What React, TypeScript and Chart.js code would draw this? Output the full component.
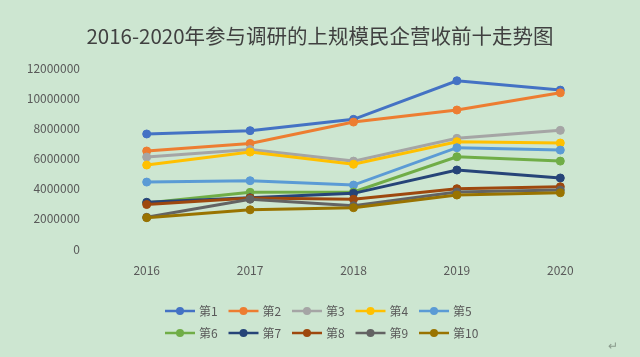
import React, { useEffect, useRef } from "react";
import { Chart, registerables } from "chart.js";

Chart.register(...registerables);

const years = ["2016", "2017", "2018", "2019", "2020"];
const seriesNames = ["第1", "第2", "第3", "第4", "第5", "第6", "第7", "第8", "第9", "第10"];
const seriesColors = [
  "#4472C4", "#ED7D31", "#A5A5A5", "#FFC000", "#5B9BD5",
  "#70AD47", "#264478", "#9E480E", "#636363", "#997300",
];
const s1 = [7630000, 7850000, 8600000, 11160000, 10540000];
const s2 = [6500000, 7000000, 8420000, 9220000, 10360000];
const s3 = [6100000, 6600000, 5830000, 7340000, 7870000];
const s4 = [5570000, 6430000, 5620000, 7120000, 7030000];
const s5 = [4440000, 4530000, 4240000, 6720000, 6560000];
const s6 = [3050000, 3760000, 3780000, 6120000, 5830000];
const s7 = [3100000, 3400000, 3690000, 5240000, 4710000];
const s8 = [2950000, 3380000, 3300000, 4000000, 4130000];
const s9 = [2100000, 3300000, 2870000, 3780000, 3910000];
const s10 = [2080000, 2600000, 2740000, 3580000, 3730000];
const seriesValues = [s1, s2, s3, s4, s5, s6, s7, s8, s9, s10];
const yTicks = [0, 2000000, 4000000, 6000000, 8000000, 10000000, 12000000];
const titleText = "2016-2020年参与调研的上规模民企营收前十走势图";

const BG = "#cde6d1";
const TEXT = "#595959";
const FONT = "'Noto Sans CJK SC', 'Noto Sans', sans-serif";

const bgPlugin = {
  id: "bg",
  beforeDraw(chart: any) {
    const ctx = chart.ctx;
    ctx.save();
    ctx.fillStyle = BG;
    ctx.fillRect(0, 0, chart.width, chart.height);
    ctx.restore();
  },
};

const legendPlugin = {
  id: "customLegend",
  afterDraw(chart: any) {
    const ctx = chart.ctx;
    ctx.save();
    ctx.font = `12px ${FONT}`;
    ctx.textBaseline = "middle";
    const lineLen = 30;
    const gapText = 4;
    const stride = 63.5;
    const rows = [seriesNames.slice(0, 5), seriesNames.slice(5)];
    const rowY = [311, 333];
    const startX = chart.width / 2 - 155;
    rows.forEach((names, r) => {
      names.forEach((name, j) => {
        const x = startX + j * stride;
        const idx = r * 5 + j;
        const color = seriesColors[idx];
        const y = rowY[r];
        ctx.strokeStyle = color;
        ctx.lineWidth = 2.5;
        ctx.beginPath();
        ctx.moveTo(x, y);
        ctx.lineTo(x + lineLen, y);
        ctx.stroke();
        ctx.fillStyle = color;
        ctx.beginPath();
        ctx.arc(x + lineLen / 2, y, 4, 0, Math.PI * 2);
        ctx.fill();
        ctx.fillStyle = TEXT;
        ctx.textAlign = "left";
        ctx.fillText(name, x + lineLen + gapText, y);
      });
    });
    ctx.fillStyle = "#8a9a8c";
    ctx.font = `12px ${FONT}`;
    ctx.fillText("↵", 608, 345);
    ctx.restore();
  },
};

export default function App() {
  const ref = useRef<HTMLCanvasElement | null>(null);
  useEffect(() => {
    if (!ref.current) return;
    const chart = new Chart(ref.current, {
      type: "line",
      data: {
        labels: years,
        datasets: seriesNames.map((name, i) => ({
          label: name,
          data: seriesValues[i],
          borderColor: seriesColors[i],
          backgroundColor: seriesColors[i],
          pointBackgroundColor: seriesColors[i],
          pointBorderColor: seriesColors[i],
          borderWidth: 3,
          pointRadius: 4,
          pointBorderWidth: 1,
          tension: 0,
          order: 10 - i,
        })),
      },
      options: {
        responsive: false,
        animation: false,
        layout: { padding: { left: 28, right: 28, top: 0, bottom: 78 } },
        plugins: {
          legend: { display: false },
          tooltip: { enabled: false },
          title: {
            display: true,
            text: titleText,
            color: "#404040",
            font: { family: FONT, size: 20.5, weight: "normal", lineHeight: 1.2 },
            padding: { top: 23.5, bottom: 20 },
          },
        },
        scales: {
          x: {
            offset: true,
            grid: { display: false, drawTicks: false },
            border: { display: false },
            ticks: { color: TEXT, font: { family: FONT, size: 12 }, padding: 14 },
            afterFit: (s: any) => { s.height = 30; },
          },
          y: {
            min: 0,
            max: 12000000,
            afterBuildTicks: (s: any) => { s.ticks = yTicks.map((v) => ({ value: v })); },
            grid: { display: false, drawTicks: false },
            border: { display: false },
            ticks: {
              color: TEXT,
              font: { family: FONT, size: 12 },
              padding: 15,
              callback: (v: any) => String(v),
            },
            afterFit: (s: any) => { s.width = 67; },
          },
        },
      },
      plugins: [bgPlugin, legendPlugin],
    });
    return () => chart.destroy();
  }, []);
  return (
    <div style={{ position: "fixed", left: 0, top: 0, width: 640, height: 357, background: BG }}>
      <canvas ref={ref} width={640} height={357} style={{ display: "block" }} />
    </div>
  );
}
